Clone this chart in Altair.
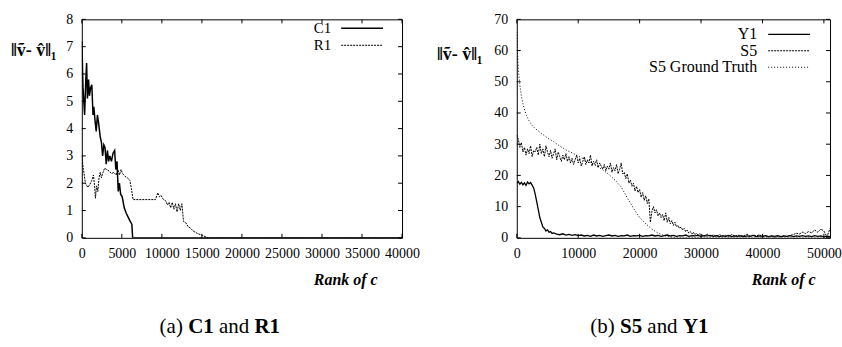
import altair as alt
import pandas as pd

FONT = "Liberation Serif, Times New Roman, serif"

# ---------------- Panel (a): C1 and R1 ----------------
c1_rank = [0, 150, 350, 500, 600, 700, 850, 950, 1100, 1250, 1400, 1500, 1650, 1800, 1950,
           2100, 2300, 2450, 2600, 2750, 2900, 3050, 3200, 3350, 3500, 3700, 3900, 4100,
           4250, 4400, 4550, 4700, 4850, 5050, 5300, 5550, 5800, 6050, 6250, 6350, 40000]
c1_val = [7.2, 5.5, 4.5, 5.8, 6.4, 5.1, 5.8, 5.2, 5.5, 5.6, 4.5, 4.8, 4.3, 3.9, 4.5,
          4.2, 3.7, 3.5, 3.0, 3.4, 3.3, 2.7, 3.2, 2.8, 3.0, 2.8, 3.1, 3.2,
          2.5, 2.8, 1.7, 2.0, 1.6, 1.5, 1.1, 0.9, 0.75, 0.6, 0.5, 0.0, 0.0]

r1_rank = [0, 200, 450, 750, 1000, 1250, 1450, 1600, 1700, 1850, 2000, 2150, 2300, 2450,
           2650, 2850, 3100, 3400, 3700, 4000, 4300, 4500, 4700, 4900, 5100, 5400, 5700,
           6000, 6200, 6400, 9200, 9500, 9700, 9900, 10200, 10500, 10700, 10900, 11100,
           11300, 11500, 11700, 11900, 12100, 12300, 12500, 12700, 13000, 13300, 13600,
           13900, 14200, 14500, 14800, 15100, 15400, 15800, 40000]
r1_val = [3.0, 2.5, 2.0, 1.85, 1.95, 2.1, 2.3, 1.9, 1.45, 1.9, 1.7, 2.2, 2.4, 2.2,
          2.4, 2.55, 2.5, 2.45, 2.35, 2.4, 2.3, 2.5, 2.3, 2.5, 2.35, 2.25, 2.2,
          2.1, 1.8, 1.4, 1.4, 1.65, 1.5, 1.55, 1.4, 1.35, 1.2, 1.3, 1.1,
          1.3, 1.05, 1.25, 0.95, 1.25, 1.0, 1.25, 0.6, 0.55, 0.4, 0.35,
          0.25, 0.2, 0.15, 0.12, 0.08, 0.05, 0.0, 0.0]

left_xticks = [0, 5000, 10000, 15000, 20000, 25000, 30000, 35000, 40000]
left_yticks = [0, 1, 2, 3, 4, 5, 6, 7, 8]

# ---------------- Panel (b): S5 and Y1 ----------------
s5_rank = list(range(0, 30000, 250)) + list(range(30000, 51001, 500))
s5_val = [
    33.0, 31.5, 29.0, 30.5, 27.5, 29.0, 26.5, 28.5, 27.0, 29.5, 26.0, 28.0, 27.5, 29.0, 26.5, 30.0, 27.0, 28.5, 26.0, 29.5,
    27.5, 26.0, 28.0, 25.5, 27.0, 28.5, 25.0, 27.5, 26.0, 24.5, 26.5, 25.0, 27.0, 24.5, 26.0, 24.0, 25.5, 23.5, 25.0, 26.5,
    24.0, 25.5, 23.0, 24.5, 26.0, 23.5, 25.0, 24.0, 26.5, 23.0, 24.5, 23.5, 25.0, 22.5, 24.0, 23.0, 22.0, 23.5, 21.5, 23.0,
    22.0, 24.0, 21.0, 22.5, 21.5, 23.5, 20.5, 22.0, 24.0, 20.5, 21.0, 19.0, 20.5, 17.5, 18.5, 16.5, 17.5, 15.0, 16.5, 14.5,
    15.5, 13.0, 14.5, 12.0, 13.5, 11.0, 12.5, 5.0, 8.5, 10.0, 8.0, 9.0, 7.0, 8.0, 6.5, 7.5, 5.5, 8.0, 5.0, 6.5,
    4.5, 5.5, 4.0, 5.0, 3.5, 4.0, 3.0, 3.5, 2.5, 3.0, 2.0, 2.5, 1.5, 2.0, 1.2, 1.8, 1.0, 1.5, 0.8, 1.3,
    1.0, 0.6, 1.2, 0.5, 0.9, 0.4, 1.0, 0.6, 0.8, 0.3,
    1.1, 0.5, 0.9, 0.4, 0.7, 1.2, 0.5, 0.9, 0.6, 1.0,
    0.4, 0.7, 0.3, 0.6, 0.2, 0.5, 0.3, 0.6, 0.4, 0.8,
    1.0, 1.5, 1.2, 1.8, 1.4, 2.0, 1.6, 2.5, 1.8, 2.8,
    2.2, 0.3, 3.0,
]

y1_rank = list(range(0, 6001, 250)) + list(range(6500, 51001, 500))
y1_val = [
    17.5, 18.0, 17.2, 17.8, 17.0, 17.6, 16.8, 17.9, 17.3, 17.7, 16.9, 16.0, 14.0, 11.5, 9.0,
    6.5, 5.0, 3.5, 3.0, 2.2, 2.6, 1.8, 2.0, 1.4, 1.6,
    1.2, 1.0, 1.3, 0.9, 1.1, 0.8, 1.0, 0.7, 0.9, 0.6,
    0.8, 0.5, 0.9, 0.6, 0.8, 0.5, 0.7, 0.9, 0.6, 0.8,
    0.5, 0.7, 0.6, 0.9, 0.5, 0.7, 0.6, 0.8, 0.5, 0.7,
    0.6, 0.9, 0.6, 0.8, 0.5, 0.7, 0.9, 0.6, 0.8, 0.5,
    0.7, 0.6, 0.9, 0.5, 0.7, 0.6, 0.8, 0.5, 0.7, 0.6,
    0.8, 0.5, 0.7, 0.4, 0.6, 0.5, 0.8, 0.4, 0.6, 0.5,
    0.7, 0.4, 0.6, 0.5, 0.8, 0.4, 0.6, 0.5, 0.7, 0.4,
    0.6, 0.5, 0.7, 0.4, 0.6, 0.5, 0.7, 0.4, 0.6, 0.5,
    0.7, 0.5, 0.6, 0.4, 0.7, 0.5, 0.6, 0.3, 0.5, 0.4,
]

gt_rank = [0, 100, 250, 500, 750, 1000, 1500, 2000, 2500, 3000, 4000, 5000, 6000, 7000,
           8000, 9000, 10000, 11000, 12000, 13000, 14000, 15000, 16000, 17000, 18000,
           19000, 20000, 21000, 22000, 23000, 24000, 25000, 26000, 51000]
gt_val = [66, 60, 54, 49, 45.5, 43, 39.5, 37.5, 36, 35, 33.5, 32, 30.8, 29.4,
          28.2, 27.2, 26.2, 25.2, 24.2, 23, 21.8, 20.3, 18.5, 16.3, 12.8,
          9.5, 6.5, 4.5, 2.8, 1.5, 0.7, 0.25, 0.05, 0.0]

right_xticks = [0, 10000, 20000, 30000, 40000, 50000]
right_yticks = [0, 10, 20, 30, 40, 50, 60, 70]

YTITLE = "\u2016\u1e7d- v\u0302\u2016\u2081"
TICK = 4


def make_panel(series, xdom, ydom, xticks, yticks, W, H, ytitle_x, ytitle_y,
               xtitle_x, legend_rows, legend_text_x, legend_line, legend_font, caption):
    x_enc = alt.X(
        "rank:Q",
        scale=alt.Scale(domain=xdom, nice=False, zero=False),
        axis=alt.Axis(values=xticks, format="d", title="Rank of c",
                      labelFont=FONT, labelFontSize=14, labelColor="black", labelPadding=9,
                      labelOverlap=False, labelFlush=False, domain=False, ticks=False, grid=False,
                      titleFont=FONT, titleColor="black",
                      titleFontStyle="italic", titleFontWeight="bold", titleFontSize=16,
                      titleAlign="right", titleBaseline="middle", titleX=xtitle_x, titleY=42),
    )
    y_enc = alt.Y(
        "value:Q",
        scale=alt.Scale(domain=ydom, nice=False, zero=False),
        axis=alt.Axis(values=yticks, format="d", title=YTITLE, titleAngle=0,
                      labelFont=FONT, labelFontSize=14, labelColor="black", labelPadding=9,
                      labelOverlap=False, domain=False, ticks=False, grid=False,
                      titleFont=FONT, titleColor="black",
                      titleAlign="right", titleBaseline="middle", titleFontSize=18,
                      titleFontWeight="bold", titleX=ytitle_x, titleY=ytitle_y),
    )
    layers = []
    for s in series:
        df = pd.DataFrame({"rank": s["rank"], "value": s["val"]})
        kw = dict(color="black", strokeWidth=s["w"], clip=True)
        if s["dash"]:
            kw["strokeDash"] = s["dash"]
        layers.append(alt.Chart(df).mark_line(**kw).encode(x=x_enc, y=y_enc))

    xt = pd.DataFrame({"rank": xticks})
    yt = pd.DataFrame({"value": yticks})
    layers.append(alt.Chart(xt).mark_rule(color="black").encode(
        x=x_enc, y=alt.value(H), y2=alt.value(H - TICK)))
    layers.append(alt.Chart(xt).mark_rule(color="black").encode(
        x=x_enc, y=alt.value(0), y2=alt.value(TICK)))
    layers.append(alt.Chart(yt).mark_rule(color="black").encode(
        y=y_enc, x=alt.value(0), x2=alt.value(TICK)))
    layers.append(alt.Chart(yt).mark_rule(color="black").encode(
        y=y_enc, x=alt.value(W), x2=alt.value(W - TICK)))

    for s, row in zip(series, legend_rows):
        layers.append(alt.Chart(pd.DataFrame({"name": [s["name"]]})).mark_text(
            align="right", baseline="middle", font=FONT, fontSize=legend_font, color="black"
        ).encode(text="name:N", x=alt.value(legend_text_x), y=alt.value(row)))
        kw = dict(color="black", strokeWidth=s["w"])
        if s["dash"]:
            kw["strokeDash"] = s["dash"]
        layers.append(alt.Chart(pd.DataFrame({"name": [s["name"]]})).mark_rule(**kw).encode(
            x=alt.value(legend_line[0]), x2=alt.value(legend_line[1]), y=alt.value(row)))

    for text, xpos, bold in caption:
        kw = dict(align="left", baseline="middle", font=FONT, fontSize=21)
        if bold:
            kw["fontWeight"] = "bold"
        layers.append(alt.Chart(pd.DataFrame({"t": [text]})).mark_text(**kw).encode(
            text="t:N", x=alt.value(xpos), y=alt.value(H + 89)))

    return alt.layer(*layers).properties(width=W, height=H)


left = make_panel(
    [dict(name="C1", rank=c1_rank, val=c1_val, dash=None, w=1.5),
     dict(name="R1", rank=r1_rank, val=r1_val, dash=[2, 1], w=1)],
    [0, 40000], [0, 8], left_xticks, left_yticks, 321, 219,
    -26, 31, 296, [9, 26], 250, (260, 302), 15,
    [("(a)", 78, False), ("C1", 106.6, True), ("and", 137.5, False), ("R1", 173.1, True)],
)

right = make_panel(
    [dict(name="Y1", rank=y1_rank, val=y1_val, dash=None, w=1.3),
     dict(name="S5", rank=s5_rank, val=s5_val, dash=[2, 1], w=1),
     dict(name="S5 Ground Truth", rank=gt_rank, val=gt_val, dash=[1, 2], w=1)],
    [0, 51000], [0, 70], right_xticks, right_yticks, 314, 219,
    -35, 35, 299, [15, 31.5, 48], 241, (252, 294), 16,
    [("(b)", 73.7, False), ("S5", 103.5, True), ("and", 130.9, False), ("Y1", 166.5, True)],
)

chart = alt.hconcat(left, right, spacing=115, bounds="flush").properties(
    padding={"left": 9, "top": 11, "right": 0, "bottom": 0},
).configure_view(stroke="black", strokeWidth=1)

chart.save("out.html", embed_options={"renderer": "svg", "actions": False})
